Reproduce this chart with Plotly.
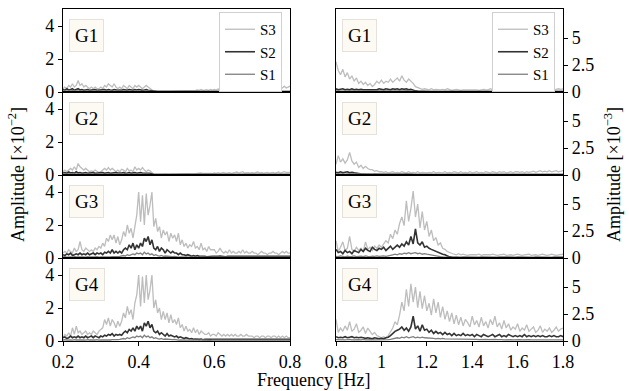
import numpy as np
import plotly.graph_objects as go

# Frequency grids [Hz]
freq_lo = np.round(np.arange(0.2, 0.8001, 0.005), 3)   # 121 points
freq_hi = np.round(np.arange(0.8, 1.8001, 0.01), 2)    # 101 points

series_names = ["S3", "S2", "S1"]
group_names = ["G1", "G2", "G3", "G4"]

# ---------------- left column (x10^-2) ----------------
g1_s3_lo = [0.2,0.3,0.2,0.4,0.3,0.5,0.3,0.4,0.7,0.4,
            0.5,0.3,0.4,0.3,0.2,0.3,0.2,0.3,0.2,0.2,
            0.3,0.2,0.4,0.3,0.5,0.4,0.3,0.5,0.3,0.2,
            0.3,0.2,0.4,0.3,0.2,0.4,0.3,0.2,0.4,0.3,
            0.4,0.3,0.2,0.3,0.4,0.3,0.2,0.1,0.05,0.05,
            0.04,0.05,0.04,0.05,0.05,0.04,0.06,0.05,0.05,0.06,
            0.06,0.07,0.06,0.08,0.07,0.1,0.08,0.09,0.1,0.08,
            0.1,0.12,0.1,0.15,0.1,0.12,0.14,0.1,0.15,0.12,
            0.15,0.12,0.18,0.15,0.12,0.2,0.15,0.18,0.15,0.2,
            0.15,0.2,0.25,0.18,0.2,0.3,0.2,0.25,0.2,0.22,
            0.2,0.25,0.3,0.2,0.25,0.2,0.3,0.22,0.25,0.2,
            0.25,0.3,0.2,0.25,0.3,0.2,0.25,0.35,0.25,0.3,0.35]
g1_s2_lo = [0.15,0.1,0.2,0.12,0.15,0.2,0.1,0.15,0.2,0.12,
            0.15,0.1,0.12,0.15,0.1,0.12,0.1,0.15,0.1,0.12,
            0.1,0.12,0.15,0.1,0.15,0.12,0.1,0.15,0.12,0.1,
            0.12,0.1,0.15,0.12,0.1,0.15,0.12,0.1,0.15,0.12,
            0.15,0.12,0.1,0.12,0.15,0.1,0.08,0.05,0.03,0.03,
            0.03,0.02,0.03,0.03,0.02,0.03,0.03,0.02,0.03,0.03,
            0.03,0.02,0.03,0.03,0.02,0.03,0.03,0.02,0.03,0.03,
            0.03,0.02,0.03,0.03,0.02,0.03,0.03,0.02,0.03,0.03,
            0.03,0.02,0.03,0.03,0.02,0.03,0.03,0.02,0.03,0.03,
            0.03,0.02,0.03,0.03,0.02,0.03,0.03,0.02,0.03,0.03,
            0.03,0.02,0.03,0.03,0.02,0.03,0.03,0.02,0.03,0.03,
            0.03,0.02,0.03,0.03,0.02,0.03,0.03,0.02,0.03,0.03,0.03]
g1_s1_lo = [0.06,0.05,0.07,0.05,0.06,0.08,0.05,0.06,0.07,0.05,
            0.06,0.05,0.07,0.06,0.05,0.06,0.07,0.05,0.06,0.05,
            0.06,0.07,0.05,0.06,0.05,0.07,0.06,0.05,0.06,0.07,
            0.05,0.06,0.05,0.07,0.06,0.05,0.06,0.07,0.05,0.06,
            0.07,0.05,0.06,0.05,0.07,0.06,0.05,0.04,0.03,0.03,
            0.03,0.04,0.03,0.03,0.04,0.03,0.03,0.04,0.03,0.03,
            0.03,0.04,0.03,0.03,0.04,0.03,0.03,0.04,0.03,0.03,
            0.03,0.04,0.03,0.03,0.04,0.03,0.03,0.04,0.03,0.03,
            0.03,0.04,0.03,0.03,0.04,0.03,0.03,0.04,0.03,0.03,
            0.03,0.04,0.03,0.03,0.04,0.03,0.03,0.04,0.03,0.03,
            0.03,0.04,0.03,0.03,0.04,0.03,0.03,0.04,0.03,0.03,
            0.03,0.04,0.03,0.03,0.04,0.03,0.03,0.04,0.03,0.03,0.04]

g2_s3_lo = [0.2,0.3,0.2,0.3,0.4,0.3,0.5,0.3,0.7,0.5,
            0.4,0.3,0.4,0.3,0.2,0.25,0.2,0.3,0.2,0.15,
            0.2,0.3,0.4,0.3,0.45,0.3,0.4,0.3,0.2,0.3,
            0.2,0.35,0.3,0.2,0.4,0.25,0.3,0.2,0.5,0.3,
            0.4,0.3,0.45,0.3,0.2,0.3,0.25,0.15,0.05,0.04,
            0.03,0.04,0.03,0.04,0.05,0.03,0.04,0.05,0.04,0.05,
            0.05,0.06,0.05,0.07,0.06,0.08,0.07,0.06,0.08,0.07,
            0.08,0.1,0.08,0.12,0.09,0.1,0.08,0.12,0.1,0.09,
            0.12,0.1,0.14,0.1,0.12,0.15,0.1,0.12,0.14,0.1,
            0.12,0.15,0.18,0.12,0.14,0.2,0.12,0.15,0.14,0.12,
            0.15,0.12,0.14,0.18,0.12,0.15,0.12,0.14,0.16,0.12,
            0.14,0.16,0.12,0.15,0.18,0.12,0.14,0.2,0.15,0.14,0.16]
g2_s2_lo = [0.12,0.15,0.1,0.18,0.12,0.15,0.1,0.2,0.12,0.15,
            0.1,0.12,0.15,0.1,0.12,0.1,0.15,0.1,0.12,0.1,
            0.12,0.15,0.1,0.12,0.15,0.1,0.12,0.1,0.15,0.12,
            0.1,0.12,0.15,0.1,0.12,0.15,0.1,0.12,0.15,0.1,
            0.12,0.15,0.12,0.1,0.12,0.1,0.1,0.06,0.03,0.03,
            0.02,0.03,0.03,0.02,0.03,0.03,0.02,0.03,0.03,0.02,
            0.03,0.03,0.02,0.03,0.03,0.02,0.03,0.03,0.02,0.03,
            0.03,0.02,0.03,0.03,0.02,0.03,0.03,0.02,0.03,0.03,
            0.02,0.03,0.03,0.02,0.03,0.03,0.02,0.03,0.03,0.02,
            0.03,0.03,0.02,0.03,0.03,0.02,0.03,0.03,0.02,0.03,
            0.03,0.02,0.03,0.03,0.02,0.03,0.03,0.02,0.03,0.03,
            0.02,0.03,0.03,0.02,0.03,0.03,0.02,0.03,0.03,0.02,0.03]
g2_s1_lo = g1_s1_lo

g3_s3_lo = [0.3,0.4,0.3,0.5,0.4,0.3,0.6,0.4,0.5,1.0,
            0.5,0.4,0.6,0.5,0.4,0.5,0.4,0.6,0.5,0.7,
            0.6,0.9,0.7,1.2,1.0,1.4,1.1,1.4,0.9,1.3,
            0.8,1.1,1.6,1.3,2.0,1.5,1.8,1.2,2.0,2.6,
            4.0,2.2,3.8,2.0,3.9,2.6,3.2,4.0,1.9,2.4,
            1.6,1.9,1.2,1.7,1.4,1.6,1.0,1.5,1.2,1.4,
            1.0,1.5,0.8,1.1,0.7,0.9,0.6,0.8,0.7,1.0,
            0.6,0.7,0.5,0.9,0.5,0.6,0.4,0.7,0.5,0.5,
            0.5,0.3,0.4,0.6,0.4,0.3,0.4,0.3,0.5,0.3,
            0.4,0.3,0.3,0.4,0.3,0.5,0.3,0.4,0.3,0.3,
            0.4,0.3,0.3,0.2,0.3,0.4,0.3,0.3,0.2,0.3,
            0.3,0.4,0.3,0.3,0.2,0.3,0.4,0.3,0.4,0.3,0.3]
g3_s2_lo = [0.2,0.15,0.25,0.2,0.3,0.15,0.2,0.25,0.2,0.3,
            0.2,0.25,0.2,0.3,0.2,0.25,0.3,0.2,0.3,0.25,
            0.3,0.2,0.35,0.3,0.4,0.3,0.5,0.3,0.4,0.3,
            0.4,0.3,0.5,0.6,0.5,0.8,0.6,0.9,0.5,0.8,
            0.6,0.9,0.7,1.2,1.0,1.3,0.8,1.1,0.6,0.5,
            0.7,0.4,0.6,0.5,0.3,0.5,0.4,0.3,0.4,0.3,
            0.3,0.2,0.3,0.2,0.2,0.15,0.2,0.15,0.1,0.15,
            0.1,0.15,0.1,0.1,0.12,0.1,0.08,0.1,0.12,0.1,
            0.1,0.08,0.1,0.12,0.1,0.1,0.08,0.1,0.1,0.12,
            0.1,0.08,0.1,0.1,0.12,0.1,0.08,0.1,0.1,0.1,
            0.12,0.1,0.08,0.1,0.1,0.12,0.1,0.1,0.08,0.1,
            0.1,0.12,0.1,0.08,0.1,0.1,0.12,0.1,0.1,0.08,0.1]
g3_s1_lo = [0.06,0.08,0.05,0.07,0.06,0.05,0.08,0.06,0.07,0.05,
            0.06,0.07,0.05,0.08,0.06,0.05,0.07,0.06,0.08,0.05,
            0.07,0.06,0.08,0.05,0.07,0.06,0.08,0.07,0.06,0.08,
            0.1,0.12,0.15,0.12,0.2,0.15,0.2,0.25,0.2,0.3,
            0.25,0.3,0.2,0.35,0.25,0.3,0.2,0.25,0.15,0.2,
            0.15,0.12,0.15,0.1,0.12,0.1,0.08,0.1,0.08,0.1,
            0.06,0.05,0.06,0.05,0.06,0.05,0.04,0.05,0.06,0.05,
            0.05,0.04,0.05,0.06,0.05,0.04,0.05,0.05,0.04,0.05,
            0.05,0.04,0.05,0.06,0.05,0.04,0.05,0.05,0.04,0.05,
            0.05,0.04,0.05,0.06,0.05,0.04,0.05,0.05,0.04,0.05,
            0.05,0.04,0.05,0.06,0.05,0.04,0.05,0.05,0.04,0.05,
            0.05,0.04,0.05,0.06,0.05,0.04,0.05,0.05,0.04,0.05,0.05]

g4_s3_lo = [0.2,0.4,0.3,0.5,0.3,0.8,0.4,0.9,0.5,0.6,
            0.4,0.5,0.6,0.4,0.5,0.4,0.6,0.5,0.4,0.6,
            0.7,0.8,1.3,1.0,1.4,0.9,1.3,1.1,0.8,1.2,
            0.9,1.2,1.7,1.4,2.1,1.6,1.9,1.3,2.3,2.8,
            4.0,2.1,3.9,2.3,4.0,2.5,3.1,4.0,2.0,2.5,
            1.7,2.0,1.3,1.8,1.3,1.7,1.1,1.6,1.1,1.3,
            1.0,1.4,0.8,1.0,0.6,0.9,0.6,0.7,0.5,0.8,
            0.5,0.7,0.4,0.6,0.5,0.4,0.4,0.5,0.3,0.4,
            0.4,0.3,0.5,0.4,0.3,0.4,0.3,0.4,0.3,0.4,
            0.3,0.4,0.3,0.3,0.4,0.3,0.3,0.4,0.3,0.3,
            0.3,0.2,0.3,0.3,0.2,0.3,0.3,0.2,0.3,0.3,
            0.2,0.3,0.3,0.2,0.3,0.2,0.3,0.2,0.3,0.2,0.2]
g4_s2_lo = [0.2,0.25,0.15,0.2,0.3,0.2,0.25,0.2,0.3,0.2,
            0.25,0.2,0.3,0.2,0.25,0.3,0.2,0.3,0.25,0.2,
            0.3,0.25,0.35,0.3,0.4,0.35,0.45,0.3,0.4,0.35,
            0.4,0.35,0.5,0.6,0.5,0.7,0.6,0.8,0.6,0.9,
            0.7,0.9,0.6,1.1,0.9,1.2,0.8,1.0,0.6,0.5,
            0.6,0.4,0.5,0.4,0.3,0.45,0.3,0.35,0.3,0.25,
            0.3,0.2,0.25,0.2,0.15,0.2,0.15,0.12,0.15,0.1,
            0.12,0.1,0.1,0.12,0.08,0.1,0.1,0.12,0.08,0.1,
            0.1,0.12,0.08,0.1,0.1,0.08,0.12,0.1,0.08,0.1,
            0.1,0.08,0.1,0.12,0.1,0.08,0.1,0.1,0.12,0.08,
            0.1,0.1,0.08,0.1,0.12,0.1,0.08,0.1,0.1,0.08,
            0.1,0.12,0.08,0.1,0.1,0.08,0.1,0.12,0.1,0.08,0.1]
g4_s1_lo = g3_s1_lo

# ---------------- right column (x10^-3) ----------------
g1_s3_hi = [2.8,2.0,1.6,2.1,1.4,1.8,1.2,1.5,1.0,1.3,
            0.8,1.0,0.7,0.9,0.6,0.8,0.5,0.7,1.0,0.8,
            1.1,0.8,1.0,0.9,1.2,0.9,1.1,1.3,1.0,1.5,
            1.1,0.9,1.2,1.0,0.8,0.5,0.4,0.3,0.25,0.3,
            0.25,0.2,0.3,0.2,0.25,0.2,0.2,0.25,0.2,0.3,
            0.2,0.15,0.2,0.25,0.2,0.15,0.2,0.2,0.25,0.2,
            0.2,0.25,0.2,0.15,0.2,0.25,0.2,0.2,0.3,0.2,
            0.25,0.2,0.3,0.2,0.25,0.2,0.3,0.25,0.2,0.3,
            0.25,0.2,0.3,0.25,0.2,0.3,0.2,0.25,0.3,0.2,
            0.3,0.25,0.2,0.3,0.25,0.3,0.2,0.25,0.3,0.25,0.3]
g1_s2_hi = [0.3,0.2,0.25,0.3,0.2,0.25,0.2,0.3,0.2,0.25,
            0.2,0.25,0.2,0.2,0.25,0.2,0.2,0.25,0.2,0.3,
            0.25,0.2,0.3,0.25,0.2,0.3,0.25,0.3,0.2,0.3,
            0.25,0.3,0.2,0.25,0.15,0.1,0.08,0.06,0.05,0.05,
            0.05,0.04,0.05,0.05,0.04,0.05,0.05,0.04,0.05,0.05,
            0.04,0.05,0.05,0.04,0.05,0.05,0.04,0.05,0.05,0.04,
            0.05,0.05,0.04,0.05,0.05,0.04,0.05,0.05,0.04,0.05,
            0.05,0.04,0.05,0.05,0.04,0.05,0.05,0.04,0.05,0.05,
            0.04,0.05,0.05,0.04,0.05,0.05,0.04,0.05,0.05,0.04,
            0.05,0.05,0.04,0.05,0.05,0.04,0.05,0.05,0.04,0.05,0.05]
s1_hi_base = [0.1,0.08,0.12,0.1,0.08,0.1,0.12,0.08,0.1,0.1,
              0.08,0.1,0.12,0.1,0.08,0.1,0.1,0.12,0.08,0.1,
              0.1,0.12,0.08,0.1,0.1,0.08,0.12,0.1,0.1,0.08,
              0.1,0.12,0.08,0.1,0.08,0.06,0.05,0.05,0.04,0.05,
              0.05,0.04,0.05,0.05,0.04,0.05,0.05,0.04,0.05,0.05,
              0.04,0.05,0.05,0.04,0.05,0.05,0.04,0.05,0.05,0.04,
              0.05,0.05,0.04,0.05,0.05,0.04,0.05,0.05,0.04,0.05,
              0.05,0.04,0.05,0.05,0.04,0.05,0.05,0.04,0.05,0.05,
              0.04,0.05,0.05,0.04,0.05,0.05,0.04,0.05,0.05,0.04,
              0.05,0.05,0.04,0.05,0.05,0.04,0.05,0.05,0.04,0.05,0.05]
g1_s1_hi = s1_hi_base

g2_s3_hi = [1.0,1.8,1.2,1.5,1.1,1.4,2.1,1.3,1.0,1.2,
            0.7,0.9,0.6,0.8,0.6,0.5,0.5,0.35,0.4,0.3,
            0.3,0.25,0.3,0.2,0.25,0.3,0.2,0.25,0.2,0.3,
            0.25,0.2,0.3,0.2,0.25,0.2,0.3,0.2,0.25,0.2,
            0.2,0.25,0.2,0.3,0.2,0.25,0.2,0.2,0.3,0.2,
            0.25,0.2,0.3,0.25,0.2,0.3,0.2,0.25,0.2,0.3,
            0.2,0.25,0.3,0.2,0.25,0.2,0.3,0.25,0.2,0.3,
            0.25,0.2,0.3,0.25,0.3,0.2,0.25,0.3,0.2,0.3,
            0.3,0.25,0.3,0.2,0.3,0.25,0.3,0.35,0.25,0.3,
            0.4,0.3,0.35,0.3,0.4,0.3,0.35,0.4,0.3,0.35,0.4]
g2_s2_hi = [0.25,0.2,0.3,0.2,0.25,0.3,0.2,0.25,0.2,0.15,
            0.1,0.08,0.06,0.05,0.05,0.04,0.05,0.05,0.04,0.05,
            0.05,0.04,0.05,0.05,0.04,0.05,0.05,0.04,0.05,0.05,
            0.04,0.05,0.05,0.04,0.05,0.05,0.04,0.05,0.05,0.04,
            0.05,0.05,0.04,0.05,0.05,0.04,0.05,0.05,0.04,0.05,
            0.05,0.04,0.05,0.05,0.04,0.05,0.05,0.04,0.05,0.05,
            0.04,0.05,0.05,0.04,0.05,0.05,0.04,0.05,0.05,0.04,
            0.05,0.05,0.04,0.05,0.05,0.04,0.05,0.05,0.04,0.05,
            0.05,0.04,0.05,0.05,0.04,0.05,0.05,0.04,0.05,0.05,
            0.04,0.05,0.05,0.04,0.05,0.05,0.04,0.05,0.05,0.04,0.05]
g2_s1_hi = s1_hi_base

g3_s3_hi = [1.6,0.6,1.0,1.5,0.7,0.9,2.0,0.8,0.6,1.0,
            0.7,0.9,0.6,1.5,0.8,1.0,0.7,1.1,0.9,1.2,
            1.0,1.3,1.6,1.4,2.2,1.8,2.6,2.2,3.2,3.8,
            3.0,5.3,3.4,4.6,6.2,3.8,5.0,2.8,4.3,2.6,
            3.4,2.0,2.6,1.6,1.9,1.2,1.4,0.9,0.8,0.6,
            0.5,0.4,0.35,0.3,0.4,0.3,0.35,0.3,0.25,0.3,
            0.3,0.25,0.3,0.35,0.25,0.3,0.3,0.25,0.3,0.35,
            0.3,0.25,0.3,0.3,0.35,0.25,0.3,0.3,0.25,0.3,
            0.35,0.3,0.25,0.3,0.3,0.35,0.25,0.3,0.3,0.25,
            0.3,0.35,0.3,0.25,0.3,0.35,0.3,0.25,0.3,0.3,0.35]
g3_s2_hi = [0.8,0.5,0.6,0.4,0.7,0.5,0.6,0.4,0.7,0.6,
            0.5,0.8,0.6,0.9,0.7,0.6,1.0,0.8,0.7,0.9,
            0.8,1.0,0.7,0.9,1.1,0.8,1.0,1.2,1.0,1.3,
            1.1,1.5,1.2,2.0,1.3,2.7,1.4,1.2,1.5,1.0,
            1.1,0.9,0.8,0.7,0.6,0.5,0.4,0.35,0.3,0.2,
            0.1,0.08,0.06,0.05,0.06,0.05,0.06,0.05,0.06,0.05,
            0.06,0.05,0.06,0.05,0.06,0.05,0.06,0.05,0.06,0.05,
            0.06,0.05,0.06,0.05,0.06,0.05,0.06,0.05,0.06,0.05,
            0.06,0.05,0.06,0.05,0.06,0.05,0.06,0.05,0.06,0.05,
            0.06,0.05,0.06,0.05,0.06,0.05,0.06,0.05,0.06,0.05,0.06]
g3_s1_hi = [0.15,0.12,0.2,0.15,0.1,0.18,0.12,0.15,0.2,0.12,
            0.15,0.18,0.12,0.2,0.15,0.12,0.18,0.15,0.2,0.15,
            0.18,0.2,0.15,0.22,0.25,0.3,0.35,0.3,0.4,0.35,
            0.45,0.4,0.5,0.4,0.45,0.5,0.4,0.45,0.35,0.4,
            0.35,0.3,0.3,0.25,0.2,0.15,0.12,0.1,0.08,0.06,
            0.05,0.05,0.04,0.05,0.05,0.04,0.05,0.05,0.04,0.05,
            0.05,0.04,0.05,0.05,0.04,0.05,0.05,0.04,0.05,0.05,
            0.04,0.05,0.05,0.04,0.05,0.05,0.04,0.05,0.05,0.04,
            0.05,0.05,0.04,0.05,0.05,0.04,0.05,0.05,0.04,0.05,
            0.05,0.04,0.05,0.05,0.04,0.05,0.05,0.04,0.05,0.05,0.04]

g4_s3_hi = [2.0,0.8,1.2,0.9,1.4,1.0,1.8,0.9,1.1,1.6,
            0.8,1.0,1.3,0.7,1.2,0.9,0.6,0.8,0.5,0.4,
            0.3,0.4,0.3,0.5,0.8,1.2,1.8,1.5,2.4,3.6,
            2.8,4.8,3.2,5.3,3.6,5.0,3.1,4.6,3.0,4.2,
            2.8,3.5,2.4,3.9,2.6,3.6,2.2,3.2,2.0,2.8,
            1.8,2.6,1.6,2.4,1.5,2.2,1.4,2.0,1.7,1.3,
            2.3,1.5,1.9,1.3,2.2,1.4,1.8,1.2,2.0,1.5,
            2.3,1.3,1.7,1.1,1.9,1.2,1.6,1.0,1.3,1.1,
            1.6,0.9,1.2,1.0,1.5,0.9,1.1,1.3,0.8,1.0,
            1.4,0.8,1.1,0.9,1.2,0.8,1.0,1.3,0.9,1.1,1.2]
g4_s2_hi = [0.4,0.3,0.35,0.3,0.4,0.3,0.35,0.4,0.3,0.35,
            0.3,0.35,0.3,0.25,0.3,0.25,0.2,0.3,0.25,0.2,
            0.25,0.2,0.3,0.35,0.5,0.7,0.9,1.0,1.1,1.3,
            1.0,1.2,0.9,1.3,2.3,1.1,1.4,0.9,1.5,1.0,
            1.1,0.8,1.0,0.7,0.9,0.7,0.8,0.6,0.8,0.6,
            0.7,0.5,0.7,0.5,0.6,0.5,0.7,0.5,0.6,0.5,
            0.6,0.4,0.6,0.5,0.4,0.6,0.5,0.4,0.5,0.6,
            0.4,0.5,0.6,0.4,0.5,0.4,0.6,0.5,0.4,0.5,
            0.4,0.5,0.4,0.6,0.4,0.5,0.4,0.5,0.4,0.5,
            0.4,0.5,0.4,0.4,0.5,0.4,0.5,0.4,0.4,0.5,0.4]
g4_s1_hi = [0.12,0.1,0.15,0.12,0.1,0.12,0.15,0.1,0.12,0.1,
            0.12,0.1,0.15,0.1,0.12,0.1,0.12,0.1,0.1,0.08,
            0.1,0.08,0.1,0.12,0.15,0.2,0.25,0.3,0.25,0.35,
            0.3,0.4,0.3,0.35,0.4,0.3,0.35,0.3,0.35,0.3,
            0.3,0.25,0.3,0.25,0.2,0.25,0.2,0.25,0.2,0.2,
            0.18,0.2,0.15,0.18,0.2,0.15,0.18,0.15,0.2,0.15,
            0.15,0.18,0.15,0.12,0.15,0.18,0.15,0.12,0.15,0.12,
            0.15,0.12,0.15,0.12,0.1,0.12,0.15,0.12,0.1,0.12,
            0.1,0.12,0.1,0.12,0.1,0.12,0.1,0.1,0.12,0.1,
            0.12,0.1,0.1,0.12,0.1,0.1,0.12,0.1,0.1,0.12,0.1]

lo_data = [[g1_s3_lo, g1_s2_lo, g1_s1_lo],
           [g2_s3_lo, g2_s2_lo, g2_s1_lo],
           [g3_s3_lo, g3_s2_lo, g3_s1_lo],
           [g4_s3_lo, g4_s2_lo, g4_s1_lo]]
hi_data = [[g1_s3_hi, g1_s2_hi, g1_s1_hi],
           [g2_s3_hi, g2_s2_hi, g2_s1_hi],
           [g3_s3_hi, g3_s2_hi, g3_s1_hi],
           [g4_s3_hi, g4_s2_hi, g4_s1_hi]]

for row in lo_data:
    for s in row:
        assert len(s) == len(freq_lo), len(s)
for row in hi_data:
    for s in row:
        assert len(s) == len(freq_hi), len(s)

# ---------------- styling / layout ----------------
W, H = 629, 391
FONT = "Liberation Serif, DejaVu Serif, serif"
colors = {"S3": "#bdbdbd", "S2": "#333333", "S1": "#7f7f7f"}
widths = {"S3": 1.3, "S2": 1.6, "S1": 1.3}

col_px = [(63, 290), (336, 563)]
row_px = [(9, 92), (92, 175), (175, 258), (258, 341)]

fig = go.Figure()
layout = dict(width=W, height=H, margin=dict(l=0, r=0, t=0, b=0, autoexpand=False),
              paper_bgcolor="white", plot_bgcolor="white",
              font=dict(family=FONT, size=17, color="black"))
annotations = []

for r in range(4):
    for c in range(2):
        k = r * 2 + c + 1
        xs = "" if k == 1 else str(k)
        x0, x1 = col_px[c]
        y0, y1 = row_px[r]
        xd = [x0 / W, x1 / W]
        yd = [1 - y1 / H, 1 - y0 / H]
        bottom = (r == 3)
        if c == 0:
            xrange_, xticks = [0.2, 0.8], [0.2, 0.4, 0.6, 0.8]
            xtext = ["0.2", "0.4", "0.6", "0.8"]
            yrange_, yticks, ytext = [0, 5.03], [0, 2, 4], ["0", "2", "4"]
            data, fx = lo_data[r], freq_lo
        else:
            xrange_, xticks = [0.8, 1.8], [0.8, 1.0, 1.2, 1.4, 1.6, 1.8]
            xtext = ["0.8", "1", "1.2", "1.4", "1.6", "1.8"]
            yrange_, yticks, ytext = [0, 7.7], [0, 2.5, 5], ["0", "2.5", "5"]
            data, fx = hi_data[r], freq_hi
        layout["xaxis" + xs] = dict(
            domain=xd, range=xrange_, anchor="y" + xs, automargin=False,
            showline=True, mirror=True, linecolor="black", linewidth=1.2,
            showgrid=False, zeroline=False,
            tickmode="array", tickvals=xticks, ticktext=xtext,
            ticks="outside" if bottom else "", ticklen=4, tickcolor="black",
            showticklabels=bottom, tickfont=dict(size=18, family=FONT))
        layout["yaxis" + xs] = dict(
            domain=yd, range=yrange_, anchor="x" + xs, automargin=False,
            side="left" if c == 0 else "right",
            showline=True, mirror=True, linecolor="black", linewidth=1.2,
            showgrid=False, zeroline=False,
            tickmode="array", tickvals=yticks, ticktext=ytext,
            ticks="outside", ticklen=4, tickcolor="black",
            tickfont=dict(size=18, family=FONT))
        for name, vals in zip(series_names, data):
            fig.add_trace(go.Scatter(
                x=fx, y=vals, mode="lines", name=name,
                line=dict(color=colors[name], width=widths[name]),
                xaxis="x" + xs, yaxis="y" + xs,
                showlegend=(r == 0),
                legend="legend" if c == 0 else "legend2"))
        annotations.append(dict(
            text=group_names[r], xref="x" + xs + " domain", yref="y" + xs + " domain",
            x=0.027, y=0.88, xanchor="left", yanchor="top", showarrow=False,
            font=dict(size=19, family=FONT, color="black"),
            bgcolor="#fdf9f3", bordercolor="#e6e1da", borderwidth=1, borderpad=5))

legend_common = dict(yanchor="top", xanchor="right", bgcolor="white",
                     bordercolor="#d0d0d0", borderwidth=1,
                     font=dict(size=15, family=FONT), tracegroupgap=0,
                     itemwidth=30)
layout["legend"] = dict(x=282 / W, y=1 - 12 / H, **legend_common)
layout["legend2"] = dict(x=555 / W, y=1 - 12 / H, **legend_common)

annotations.append(dict(text="Amplitude [×10<sup>−2</sup>]", xref="paper", yref="paper",
                        x=16 / W, y=1 - 175 / H, textangle=-90, showarrow=False,
                        xanchor="center", yanchor="middle",
                        font=dict(size=18, family=FONT)))
annotations.append(dict(text="Amplitude [×10<sup>−3</sup>]", xref="paper", yref="paper",
                        x=612 / W, y=1 - 175 / H, textangle=-90, showarrow=False,
                        xanchor="center", yanchor="middle",
                        font=dict(size=18, family=FONT)))
annotations.append(dict(text="Frequency [Hz]", xref="paper", yref="paper",
                        x=313 / W, y=1 - 380 / H, showarrow=False,
                        xanchor="center", yanchor="middle",
                        font=dict(size=18, family=FONT)))
layout["annotations"] = annotations
fig.update_layout(**layout)
fig.write_html("out.html", config={"displayModeBar": False},
               post_script="document.body.style.margin='0';document.body.style.padding='0';")
